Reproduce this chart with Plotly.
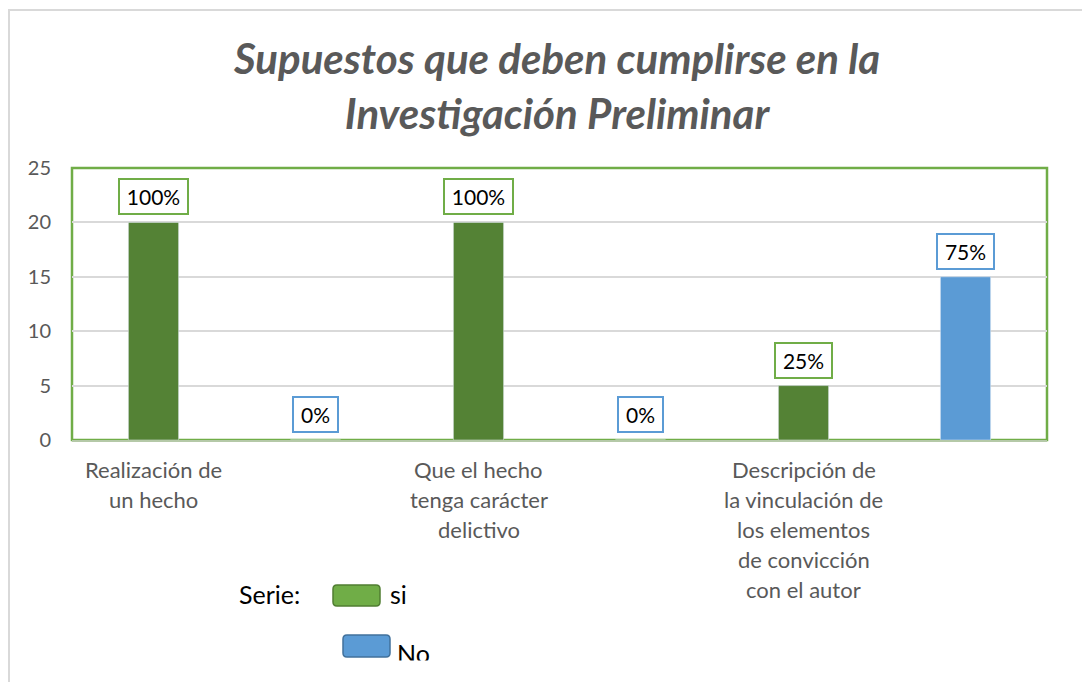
import plotly.graph_objects as go

categories = ["Realización de<br>un hecho",
              "Que el hecho<br>tenga carácter<br>delictivo",
              "Descripción de<br>la vinculación de<br>los elementos<br>de convicción<br>con el autor"]
si_values = [20, 20, 5]
no_values = [0, 0, 15]
si_labels = ["100%", "100%", "25%"]
no_labels = ["0%", "0%", "75%"]
y_ticks = [0, 5, 10, 15, 20, 25]
title_text = "Supuestos que deben cumplirse en la<br>Investigación Preliminar"

OFF = 8  # page body margin
W, H = 1090 - OFF, 682 - OFF
L, R, T, B = 72, 1047, 168, 440  # plot area in screen pixels
FONT = "Lato, Open Sans, sans-serif"
GRAY = "#595959"
SI_BAR = "#548235"
SI_LIGHT = "#70AD47"
NO_BAR = "#5B9BD5"


def px(xp):
    return (xp - L) / (R - L)


def py(yp):
    return (B - yp) / (B - T)


fig = go.Figure()
fig.add_trace(go.Bar(name="si", x=categories, y=si_values, marker_color=SI_BAR))
fig.add_trace(go.Bar(name="No", x=categories, y=no_values, marker_color=NO_BAR))

annotations = []
# data labels
for vals, labs, shift, col in [(si_values, si_labels, -81, SI_LIGHT), (no_values, no_labels, 81, NO_BAR)]:
    for c, v, t in zip(categories, vals, labs):
        annotations.append(dict(x=c, y=v, xref="x", yref="y", text=t, showarrow=False,
                                xshift=shift, yanchor="bottom", yshift=7,
                                font=dict(family=FONT, size=21, color="black"),
                                bordercolor=col, borderwidth=2, borderpad=4,
                                bgcolor="white", width=12 * len(t) + 11))
# category labels, line by line (centred under the "si" bar, as in the original)
for c in categories:
    for i, line in enumerate(c.split("<br>")):
        annotations.append(dict(x=c, y=0, xref="x", yref="paper", text=line, showarrow=False,
                                xshift=-81, yanchor="top", yshift=-(14 + 30 * i),
                                font=dict(family=FONT, size=22, color=GRAY)))
# title
annotations.append(dict(x=px(556), y=py(85), xref="paper", yref="paper", text=title_text,
                        showarrow=False, xanchor="center", yanchor="middle",
                        font=dict(family=FONT, size=42, color=GRAY, style="italic", weight="bold")))
# legend
annotations += [
    dict(x=px(237), y=py(594), xref="paper", yref="paper", text="Serie:", showarrow=False,
         xanchor="left", yanchor="middle", font=dict(family=FONT, size=25, color="black")),
    dict(x=px(388), y=py(594), xref="paper", yref="paper", text="si", showarrow=False,
         xanchor="left", yanchor="middle", font=dict(family=FONT, size=25, color="black")),
    dict(x=px(395), y=py(653), xref="paper", yref="paper", text="No", showarrow=False,
         xanchor="left", yanchor="middle", font=dict(family=FONT, size=25, color="black")),
    # the original picture is cut just below the legend
    dict(x=px(392), y=py(660), xref="paper", yref="paper", text=" ", showarrow=False,
         xanchor="left", yanchor="top", width=70, height=30, bgcolor="white", borderpad=0),
]


def rrect(x0, y0, x1, y1, r=4):
    return (f"M {px(x0 + r)},{py(y0)} L {px(x1 - r)},{py(y0)} Q {px(x1)},{py(y0)} {px(x1)},{py(y0 + r)} "
            f"L {px(x1)},{py(y1 - r)} Q {px(x1)},{py(y1)} {px(x1 - r)},{py(y1)} "
            f"L {px(x0 + r)},{py(y1)} Q {px(x0)},{py(y1)} {px(x0)},{py(y1 - r)} "
            f"L {px(x0)},{py(y0 + r)} Q {px(x0)},{py(y0)} {px(x0 + r)},{py(y0)} Z")


shapes = [
    # outer chart border (top and left)
    dict(type="path", xref="paper", yref="paper",
         path=f"M {px(1100)},{py(10)} L {px(9)},{py(10)} L {px(9)},{py(700)}",
         line=dict(color="#D9D9D9", width=2)),
    # plot area border
    dict(type="rect", xref="paper", yref="paper", x0=0, y0=0, x1=1, y1=1,
         line=dict(color=SI_LIGHT, width=2.5), layer="below"),
    # legend swatches
    dict(type="path", xref="paper", yref="paper", path=rrect(333, 585, 380, 606),
         fillcolor=SI_LIGHT, line=dict(color="#507E32", width=1.5)),
    dict(type="path", xref="paper", yref="paper", path=rrect(343, 635, 390, 657),
         fillcolor=NO_BAR, line=dict(color="#41719C", width=1.5)),
]

fig.update_layout(
    width=W, height=H,
    margin=dict(l=L - OFF, r=(W + OFF) - R, t=T - OFF, b=(H + OFF) - B, pad=0),
    paper_bgcolor="white", plot_bgcolor="white",
    barmode="group", bargap=0.003, bargroupgap=0.69,
    showlegend=False,
    annotations=annotations, shapes=shapes,
    font=dict(family=FONT),
)
fig.update_xaxes(showticklabels=False, showgrid=False, showline=True,
                 linecolor="#B5C9A8", linewidth=2, zeroline=False)
fig.update_yaxes(range=[0, 25], tickvals=y_ticks, showgrid=True, gridcolor="#D9D9D9", gridwidth=1.5,
                 zeroline=False, showline=False, ticks="",
                 tickfont=dict(family=FONT, size=20, color=GRAY), ticklabelstandoff=20)

fig.write_html("out.html")
